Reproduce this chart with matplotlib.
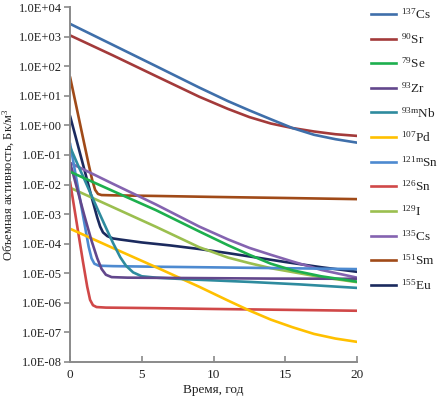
import matplotlib
matplotlib.use("Agg")
import matplotlib.pyplot as plt
from matplotlib.ticker import FixedLocator, FuncFormatter
from matplotlib.lines import Line2D

plt.rcParams['font.family'] = ['Liberation Serif', 'DejaVu Serif']
plt.rcParams['mathtext.fontset'] = 'custom'
plt.rcParams['mathtext.rm'] = 'Liberation Serif'
plt.rcParams['mathtext.it'] = 'Liberation Serif:italic'

labels = [r"$^{\mathrm{137}}$Cs", r"$^{\mathrm{90}}$Sr", r"$^{\mathrm{79}}$Se", r"$^{\mathrm{93}}$Zr",
          r"$^{\mathrm{93m}}$Nb", r"$^{\mathrm{107}}$Pd", r"$^{\mathrm{121m}}$Sn", r"$^{\mathrm{126}}$Sn",
          r"$^{\mathrm{129}}$I", r"$^{\mathrm{135}}$Cs", r"$^{\mathrm{151}}$Sm", r"$^{\mathrm{155}}$Eu"]
colors = ["#3F6FAA", "#A33A3A", "#1DAF4E", "#62478C", "#2E8B9E", "#FFC000",
          "#4D8AD0", "#D04848", "#9BBF4F", "#8463B0", "#A04A18", "#1B2A5E"]

# time (years) and activity (Bq/m3)
t_cs137 = [0, 3, 6, 9, 11, 12.5, 14, 15.5, 17, 18.5, 20]
a_cs137 = [2.7e3, 5.2e2, 1.0e2, 1.9e1, 6.6e0, 3.2e0, 1.6e0, 8.1e-1, 4.8e-1, 3.4e-1, 2.6e-1]
t_sr90 = [0, 3, 6, 9, 11, 12.5, 14, 15.5, 17, 18.5, 20]
a_sr90 = [1.1e3, 2.3e2, 4.6e1, 9.3e0, 3.6e0, 1.9e0, 1.15e0, 8.1e-1, 6.2e-1, 5.0e-1, 4.4e-1]
t_se79 = [0, 3, 6, 9, 11, 12.5, 14, 15.5, 17.5, 20]
a_se79 = [2.7e-2, 6.0e-3, 1.35e-3, 2.6e-4, 8.9e-5, 4.2e-5, 2.1e-5, 1.26e-5, 7.9e-6, 5.2e-6]
t_zr93 = [0, 0.5, 1.0, 1.5, 1.9, 2.2, 2.5, 2.9, 4, 8, 14, 20]
a_zr93 = [5.6e-2, 7.1e-3, 8.9e-4, 1.26e-4, 3.2e-5, 1.4e-5, 8.9e-6, 7.4e-6, 7.1e-6, 6.9e-6, 6.6e-6, 6.5e-6]
t_nb93m = [0, 0.5, 1.0, 1.5, 2.0, 2.5, 3.0, 3.5, 3.9, 4.4, 5.0, 6, 8, 12.5, 16, 20]
a_nb93m = [1.9e-1, 5.2e-2, 1.5e-2, 4.2e-3, 1.2e-3, 3.5e-4, 1.05e-4, 3.5e-5, 1.8e-5, 1.07e-5,
           7.9e-6, 7.1e-6, 6.3e-6, 5.1e-6, 4.2e-6, 3.2e-6]
t_pd107 = [0, 3, 6, 9, 11, 12.5, 14, 15.5, 17, 18.5, 20]
a_pd107 = [3.2e-4, 7.1e-5, 1.6e-5, 3.5e-6, 1.2e-6, 5.5e-7, 2.7e-7, 1.5e-7, 8.9e-8, 6.2e-8, 4.8e-8]
t_sn121m = [0, 0.5, 1.0, 1.3, 1.5, 1.7, 2.0, 3, 6, 10, 15, 20]
a_sn121m = [2.5e-1, 1.1e-2, 5.0e-4, 7.9e-5, 3.2e-5, 2.1e-5, 1.8e-5, 1.74e-5, 1.66e-5, 1.58e-5, 1.48e-5, 1.38e-5]
t_sn126 = [0, 0.3, 0.6, 0.9, 1.2, 1.4, 1.6, 1.85, 2.5, 6, 10, 15, 20]
a_sn126 = [1.26e-2, 1.6e-3, 2.0e-4, 2.5e-5, 3.5e-6, 1.26e-6, 8.3e-7, 7.2e-7, 6.9e-7, 6.6e-7, 6.2e-7, 5.8e-7, 5.4e-7]
t_i129 = [0, 3, 6, 9, 11, 12.5, 14, 15.5, 17.5, 20]
a_i129 = [7.8e-3, 1.7e-3, 3.7e-4, 7.6e-5, 3.4e-5, 2.2e-5, 1.48e-5, 1.1e-5, 7.4e-6, 5.0e-6]
t_cs135 = [0, 3, 6, 9, 11, 12.5, 14, 15.5, 17.5, 20]
a_cs135 = [5.4e-2, 1.05e-2, 2.1e-3, 3.8e-4, 1.4e-4, 7.2e-5, 4.2e-5, 2.5e-5, 1.3e-5, 7.1e-6]
t_sm151 = [0, 0.5, 1.0, 1.3, 1.55, 1.75, 1.95, 2.2, 3, 6, 10, 15, 20]
a_sm151 = [4.4e1, 3.2e0, 2.3e-1, 4.8e-2, 1.4e-2, 6.6e-3, 4.8e-3, 4.4e-3, 4.3e-3, 4.1e-3, 3.8e-3, 3.5e-3, 3.2e-3]
t_eu155 = [0, 0.5, 1.0, 1.5, 1.9, 2.1, 2.3, 2.6, 3.0, 3.5, 5, 7, 9, 11, 12.5, 15, 17.5, 20]
a_eu155 = [2.1e0, 2.6e-1, 3.2e-2, 3.8e-3, 7.6e-4, 3.8e-4, 2.4e-4, 1.8e-4, 1.5e-4, 1.38e-4, 1.1e-4,
           8.7e-5, 6.6e-5, 4.8e-5, 3.7e-5, 2.4e-5, 1.6e-5, 1.12e-5]

series = [(t_cs137, a_cs137), (t_sr90, a_sr90), (t_se79, a_se79), (t_zr93, a_zr93),
          (t_nb93m, a_nb93m), (t_pd107, a_pd107), (t_sn121m, a_sn121m), (t_sn126, a_sn126),
          (t_i129, a_i129), (t_cs135, a_cs135), (t_sm151, a_sm151), (t_eu155, a_eu155)]

x_ticks = [0, 5, 10, 15, 20]
y_ticks = [1e4, 1e3, 1e2, 1e1, 1e0, 1e-1, 1e-2, 1e-3, 1e-4, 1e-5, 1e-6, 1e-7, 1e-8]

fig = plt.figure(figsize=(4.37, 3.97), dpi=100)
ax = fig.add_axes([70/437, 35/397, 287/437, 355/397])

# draw in reverse legend order so upper entries sit on top
order = [11, 10, 9, 8, 7, 6, 5, 4, 3, 2, 1, 0]
for i in order:
    t, a = series[i]
    ax.plot(t, a, color=colors[i], lw=1.9, solid_capstyle='round', solid_joinstyle='round')

ax.set_yscale('log')
ax.set_xlim(0, 20)
ax.set_ylim(1e-8, 1e4)
ax.yaxis.set_major_locator(FixedLocator(y_ticks))
ax.yaxis.set_minor_locator(FixedLocator([]))
ax.yaxis.set_major_formatter(FuncFormatter(lambda v, p: f"{v:.1E}"))
ax.set_xticks(x_ticks)
ax.set_xticklabels([str(v) for v in x_ticks])

for s in ['top', 'right']:
    ax.spines[s].set_visible(False)
for s in ['left', 'bottom']:
    ax.spines[s].set_color('#8a8a8a')
    ax.spines[s].set_linewidth(1.4)
ax.tick_params(axis='y', direction='out', length=4, width=1.2, color='#8a8a8a',
               labelsize=9, labelcolor='#222222', pad=1.5)
ax.tick_params(axis='x', direction='in', length=4, width=1.2, color='#8a8a8a',
               labelsize=9.5, labelcolor='#222222', pad=5)

ax.set_xlabel("Время, год", fontsize=9.5, color='#222222', labelpad=2)
ax.set_ylabel(r"Объемная активность, Бк/м$^{\mathrm{3}}$", fontsize=9, color='#222222', labelpad=2)

handles = [Line2D([], [], color=colors[i], lw=1.9) for i in range(len(labels))]
fig.legend(handles, labels, loc='upper left', bbox_to_anchor=(371/437, 1 - 7/397),
           frameon=False, fontsize=9.5, handlelength=1.9, handletextpad=0.35,
           labelspacing=0.76, borderpad=0, borderaxespad=0, labelcolor='#222222')

fig.savefig("out.png", dpi=100)
